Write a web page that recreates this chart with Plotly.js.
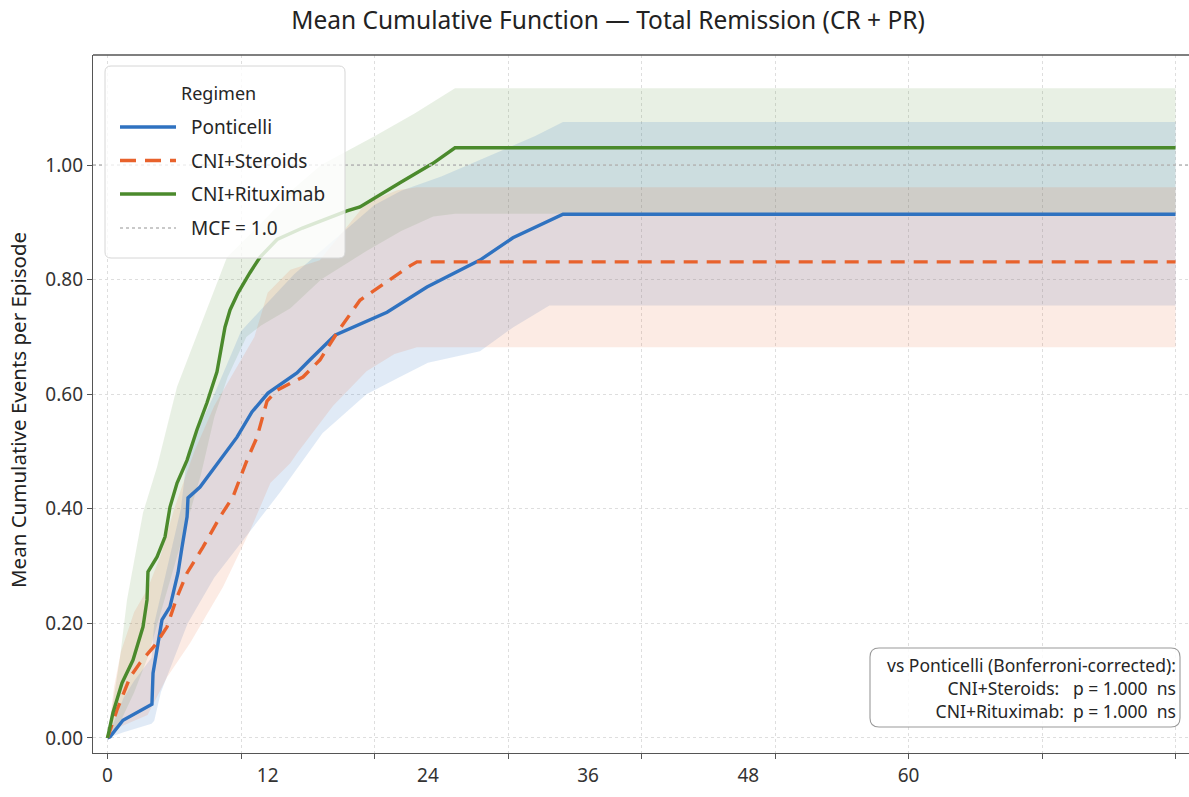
<!DOCTYPE html>
<html>
<head>
<meta charset="utf-8">
<script src="https://cdn.plot.ly/plotly-3.0.1.min.js"></script>
<style>html,body{margin:0;padding:0;background:#fff;}#chart{width:1189px;height:797px;}</style>
</head>
<body>
<div id="chart"></div>
<script>
// ---------- data (months since start, MCF) ----------
const regimens = ["Ponticelli", "CNI+Steroids", "CNI+Rituximab"];
const referenceLabel = "MCF = 1.0";
const legendTitle = "Regimen";

const ponticelliT   = [0, 0.19, 1.16, 3.33, 3.41, 3.93, 4.08, 4.68, 5.28, 5.58, 5.96, 6.03, 6.93, 9.70, 10.15, 10.82, 12.02, 14.19, 15.17, 17.04, 20.94, 23.93, 27.90, 30.37, 34.12, 80];
const ponticelliMCF = [0, 0.002, 0.031, 0.059, 0.113, 0.188, 0.206, 0.229, 0.288, 0.333, 0.386, 0.419, 0.438, 0.525, 0.543, 0.569, 0.602, 0.637, 0.660, 0.703, 0.743, 0.787, 0.834, 0.873, 0.914, 0.914];
const ponticelliLoT = [0, 1.2, 3.3, 3.5, 4, 5, 6, 8, 10, 12.9, 16.1, 19.4, 21.9, 24, 27.9, 30.4, 33.1, 34.12, 80];
const ponticelliLo  = [0, 0.01, 0.025, 0.03, 0.08, 0.14, 0.20, 0.28, 0.34, 0.428, 0.532, 0.60, 0.63, 0.655, 0.675, 0.717, 0.755, 0.755, 0.755];
const ponticelliHiT = [0, 0.5, 1.2, 2, 3.3, 3.5, 4.5, 5.5, 6, 7, 8, 10, 12, 14, 16, 18, 20, 22, 25, 28, 32, 34.12, 80];
const ponticelliHi  = [0, 0.03, 0.07, 0.10, 0.14, 0.20, 0.30, 0.40, 0.50, 0.55, 0.60, 0.71, 0.76, 0.81, 0.85, 0.89, 0.93, 0.955, 0.98, 1.01, 1.05, 1.075, 1.075];

const steroidsT   = [0, 0.71, 1.69, 2.43, 3.56, 4.46, 5.21, 5.96, 7.15, 8.43, 9.40, 10.45, 11.20, 11.95, 12.70, 14.64, 15.92, 17.19, 18.91, 20.64, 22.66, 23.18, 80];
const steroidsMCF = [0, 0.049, 0.106, 0.131, 0.162, 0.194, 0.246, 0.288, 0.333, 0.386, 0.421, 0.485, 0.525, 0.588, 0.607, 0.630, 0.660, 0.707, 0.764, 0.792, 0.824, 0.831, 0.831];
const steroidsLoT = [0, 1, 3, 4.46, 6.2, 8.66, 10.7, 12.2, 13.7, 14.2, 16.9, 19.4, 21.5, 23.18, 80];
const steroidsLo  = [0, 0.02, 0.04, 0.106, 0.166, 0.264, 0.363, 0.445, 0.48, 0.497, 0.58, 0.64, 0.67, 0.682, 0.682];
const steroidsHiT = [0, 0.5, 1, 2, 3, 4, 5, 6.5, 8, 9.5, 11, 12, 13.7, 15.9, 17.9, 19.4, 21.7, 23.18, 80];
const steroidsHi  = [0, 0.09, 0.15, 0.22, 0.26, 0.32, 0.40, 0.50, 0.58, 0.64, 0.70, 0.777, 0.817, 0.834, 0.892, 0.934, 0.956, 0.961, 0.961];

const rituximabT   = [0, 0.41, 1.09, 1.91, 2.66, 2.96, 3.03, 3.71, 4.31, 4.68, 5.21, 5.96, 6.70, 7.45, 8.20, 8.80, 9.18, 9.78, 10.67, 11.42, 12.70, 14.60, 17.94, 18.91, 21.91, 24.38, 26.03, 80];
const rituximabMCF = [0, 0.044, 0.096, 0.136, 0.194, 0.241, 0.290, 0.316, 0.351, 0.403, 0.445, 0.485, 0.538, 0.585, 0.639, 0.717, 0.747, 0.777, 0.812, 0.839, 0.870, 0.890, 0.920, 0.927, 0.969, 1.003, 1.030, 1.030];
const rituximabLoT = [0, 1, 2, 3, 4, 5, 6, 7, 8, 9, 10.4, 11.5, 13.7, 16, 19.4, 22, 24.4, 26.03, 80];
const rituximabLo  = [0, 0.03, 0.08, 0.14, 0.22, 0.30, 0.38, 0.46, 0.56, 0.63, 0.70, 0.72, 0.75, 0.80, 0.85, 0.885, 0.91, 0.915, 0.915];
const rituximabHiT = [0, 0.94, 1.46, 2.66, 3.71, 4.46, 5.21, 6.18, 8.95, 10.5, 12, 14, 16, 18, 20, 23, 26.03, 80];
const rituximabHi  = [0, 0.141, 0.241, 0.393, 0.473, 0.543, 0.613, 0.672, 0.839, 0.875, 0.91, 0.96, 1.0, 1.025, 1.05, 1.09, 1.134, 1.134];

const referenceMCF = 1.0;
const xTickVals   = [0, 10, 20, 30, 40, 50, 60, 70, 80];   // tick marks / grid
const xLabelVals  = [0, 12, 24, 36, 48, 60];              // labelled months
const yTickVals   = [0, 0.2, 0.4, 0.6, 0.8, 1.0];
const pvalueLines = ["vs Ponticelli (Bonferroni-corrected):", "CNI+Steroids:   p = 1.000  ns", "CNI+Rituximab:  p = 1.000  ns"];
const chartTitle  = "Mean Cumulative Function \u2014 Total Remission (CR + PR)";
const yTitle      = "Mean Cumulative Events per Episode";

// ---------- styling ----------
const FONT = "Noto Sans, Open Sans, DejaVu Sans, sans-serif";
const colors = { blue: "#2f72c0", orange: "#e8622c", green: "#4b8a2c", ref: "#b8b8b8" };
const fills  = { blue: "rgba(47,114,192,0.15)", orange: "rgba(232,98,44,0.13)", green: "rgba(75,138,44,0.13)" };
const DASH = "14px,9px";
const XR = [-1.086, 81.01];
const YR = [-0.0262, 1.192];
const M = { l: 93, r: 0, t: 55, b: 44 };
const W = 1189, H = 797;
const PW = W - M.l - M.r, PH = H - M.t - M.b;
// pixel -> paper helpers for layout decorations (legend box, note box)
const px = v => (v - M.l) / PW;
const py = v => (H - M.b - v) / PH;
function roundRect(x0, y0, x1, y1, r) {
  const rx = r / PW, ry = r / PH;
  const X0 = px(x0), X1 = px(x1), YT = py(y0), YB = py(y1);
  return `M${X0 + rx},${YT} L${X1 - rx},${YT} Q${X1},${YT} ${X1},${YT - ry} L${X1},${YB + ry} Q${X1},${YB} ${X1 - rx},${YB} ` +
         `L${X0 + rx},${YB} Q${X0},${YB} ${X0},${YB + ry} L${X0},${YT - ry} Q${X0},${YT} ${X0 + rx},${YT} Z`;
}

function band(loT, lo, hiT, hi, fill) {
  return {
    x: loT.concat(hiT.slice().reverse()),
    y: lo.concat(hi.slice().reverse()),
    type: "scatter", mode: "lines", fill: "toself", fillcolor: fill,
    line: { width: 0, color: "rgba(0,0,0,0)" }, hoverinfo: "skip", showlegend: false
  };
}

const traces = [
  band(rituximabLoT, rituximabLo, rituximabHiT, rituximabHi, fills.green),
  band(ponticelliLoT, ponticelliLo, ponticelliHiT, ponticelliHi, fills.blue),
  band(steroidsLoT, steroidsLo, steroidsHiT, steroidsHi, fills.orange),
  { x: XR, y: [referenceMCF, referenceMCF], name: referenceLabel, type: "scatter", mode: "lines", showlegend: false,
    xaxis: "x2", line: { color: colors.ref, width: 1.4, dash: "dot" } },
  { x: ponticelliT, y: ponticelliMCF, name: regimens[0], type: "scatter", mode: "lines", showlegend: false,
    line: { color: colors.blue, width: 3.4 } },
  { x: steroidsT, y: steroidsMCF, name: regimens[1], type: "scatter", mode: "lines", showlegend: false,
    line: { color: colors.orange, width: 3.4, dash: DASH } },
  { x: rituximabT, y: rituximabMCF, name: regimens[2], type: "scatter", mode: "lines", showlegend: false,
    line: { color: colors.green, width: 3.4 } }
];

// ---------- legend (drawn as layout decoration) ----------
const legendRows = [
  { label: regimens[0], color: colors.blue, width: 3.6, dash: "solid" },
  { label: regimens[1], color: colors.orange, width: 3.6, dash: "16px,9px" },
  { label: regimens[2], color: colors.green, width: 3.6, dash: "solid" },
  { label: referenceLabel, color: colors.ref, width: 1.5, dash: "dot" }
];
const legendRowY = [127, 160.5, 194, 228];
const shapes = [
  { type: "line", xref: "paper", yref: "paper", x0: 0, x1: 1, y0: 1, y1: 1, line: { color: "#555", width: 1.3 } },
  { type: "path", xref: "paper", yref: "paper", path: roundRect(105, 66, 345, 258, 6),
    fillcolor: "rgba(255,255,255,0.8)", line: { color: "#d6d6d6", width: 1 }, layer: "above" },
  { type: "path", xref: "paper", yref: "paper", path: roundRect(870, 648, 1180, 727, 9),
    fillcolor: "rgba(255,255,255,0.85)", line: { color: "#9a9a9a", width: 1.1 }, layer: "above" }
];
const annotations = [
  { xref: "paper", yref: "paper", x: px(218), y: py(93), xanchor: "center", yanchor: "middle", showarrow: false,
    text: legendTitle, font: { size: 18, color: "#262626" } },
  { xref: "paper", yref: "paper", x: px(18), y: py(410), xanchor: "center", yanchor: "middle", showarrow: false,
    textangle: -90, text: yTitle, font: { size: 20.5, color: "#222" } }
];
legendRows.forEach((r, i) => {
  shapes.push({ type: "line", xref: "paper", yref: "paper", x0: px(120), x1: px(176), y0: py(legendRowY[i]), y1: py(legendRowY[i]),
                line: { color: r.color, width: r.width, dash: r.dash }, layer: "above" });
  annotations.push({ xref: "paper", yref: "paper", x: px(189), y: py(legendRowY[i]), xanchor: "left", yanchor: "middle",
                     showarrow: false, text: r.label, font: { size: 19, color: "#262626" } });
});
annotations.push({ xref: "paper", yref: "paper", x: px(1178), y: py(688), xanchor: "right", yanchor: "middle",
  text: pvalueLines.map(s => s.replace(/ /g, "\u00a0")).join("<br>"), align: "right", showarrow: false,
  font: { size: 17.5, color: "#262626" } });

const layout = {
  width: W, height: H,
  margin: M,
  paper_bgcolor: "#ffffff", plot_bgcolor: "#ffffff",
  font: { family: FONT, size: 14, color: "#262626" },
  title: { text: chartTitle, font: { family: FONT, size: 24.5, color: "#222" },
           x: 608 / W, xref: "container", xanchor: "center", y: 1 - 20 / H, yref: "container", yanchor: "middle" },
  xaxis: {
    range: XR, tickvals: xLabelVals, ticktext: xLabelVals.map(String),
    ticks: "outside", ticklen: 5, tickcolor: "rgba(0,0,0,0)", showgrid: false, zeroline: false,
    showline: true, linecolor: "#555", linewidth: 1.3, tickfont: { size: 19, color: "#333" }
  },
  xaxis2: {
    range: XR, overlaying: "x", tickvals: xTickVals, showticklabels: false,
    ticks: "outside", ticklen: 5, tickcolor: "#555", tickwidth: 1.2,
    showgrid: true, gridcolor: "#dedede", griddash: "dot", gridwidth: 1, zeroline: false, showline: false
  },
  yaxis: {
    range: YR, tickvals: yTickVals, tickformat: ".2f",
    ticks: "outside", ticklen: 5, tickcolor: "#555", tickwidth: 1.2,
    showgrid: true, gridcolor: "#dedede", griddash: "dot", gridwidth: 1, zeroline: false,
    showline: true, linecolor: "#555", linewidth: 1.3, tickfont: { size: 19, color: "#333" }
  },
  showlegend: false,
  shapes: shapes,
  annotations: annotations
};

Plotly.newPlot("chart", traces, layout, { displayModeBar: false, responsive: false });
</script>
</body>
</html>
